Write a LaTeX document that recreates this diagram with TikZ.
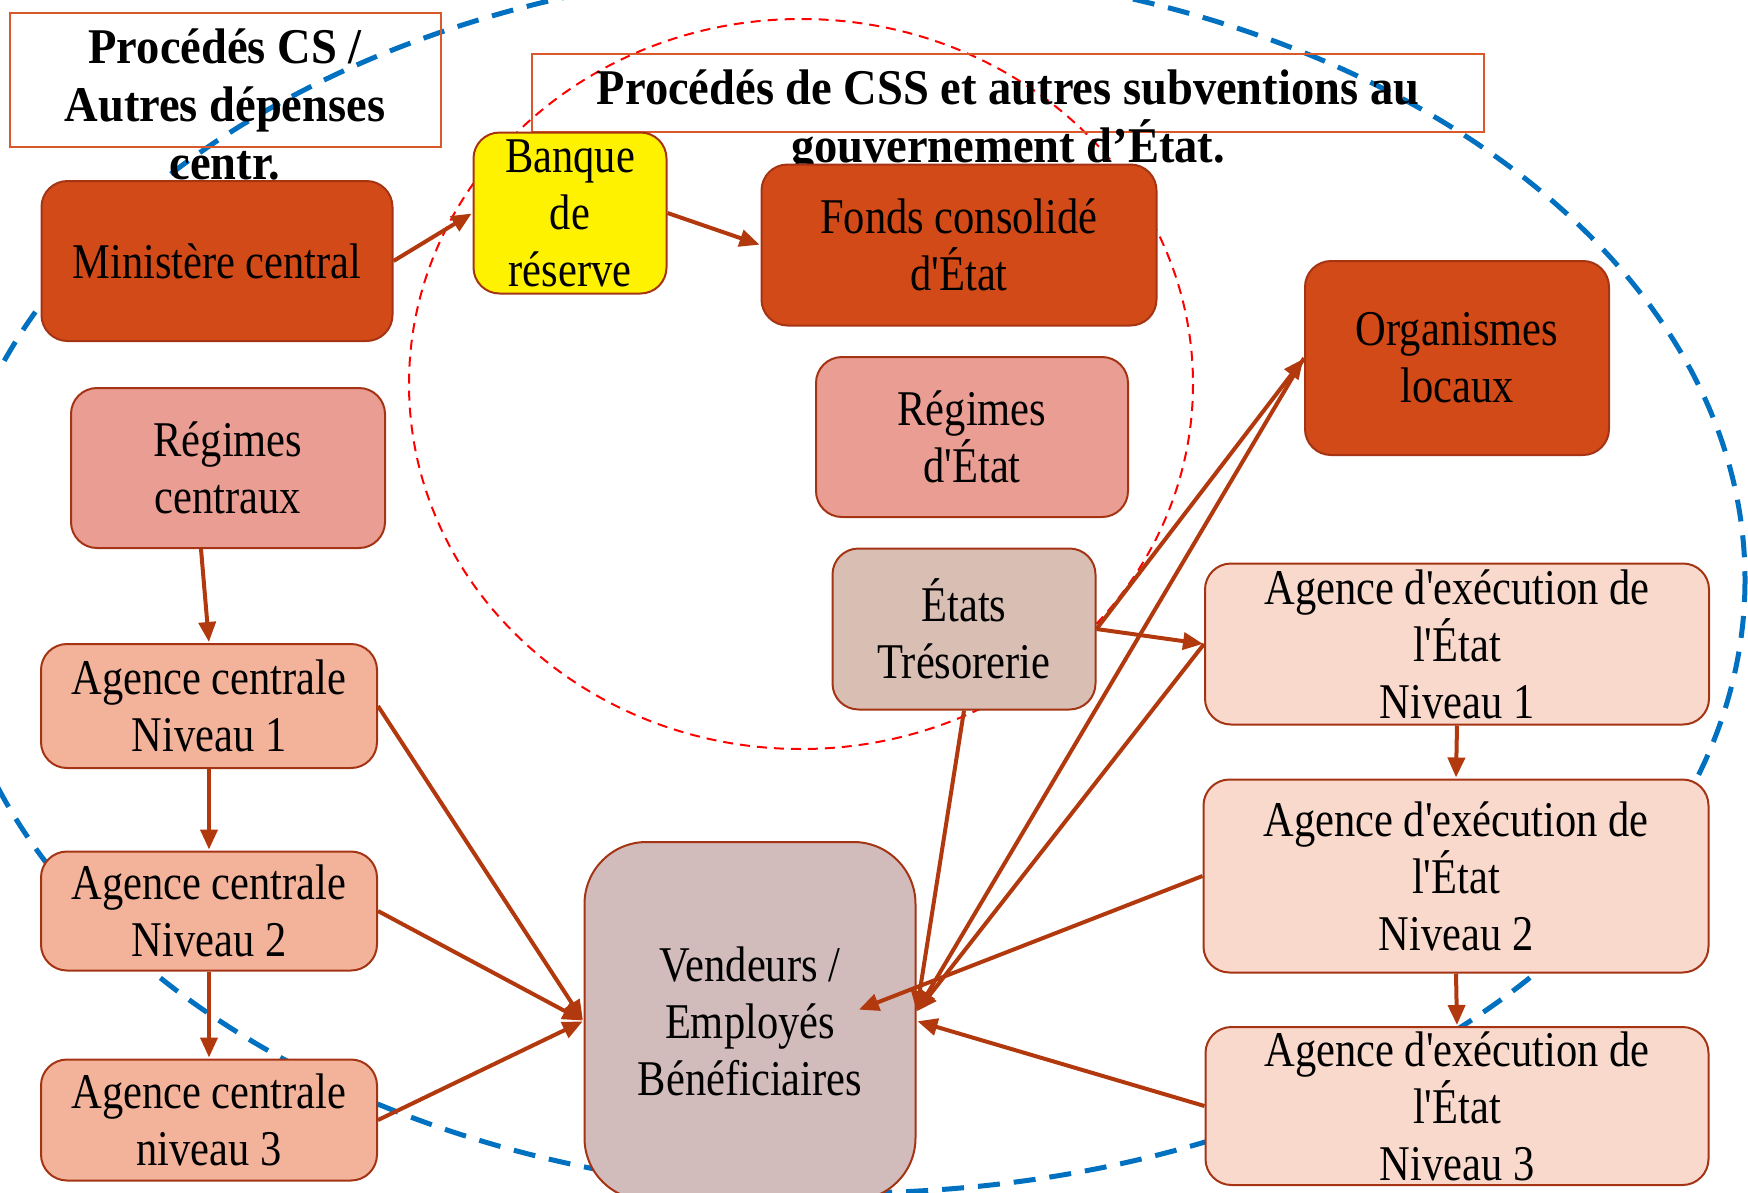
\documentclass[tikz,border=0pt]{standalone}
\usepackage{fontspec}
\setmainfont{Liberation Serif}[FakeStretch=0.85, Ligatures=TeXOff]
\newfontfamily\headfont{Liberation Serif}[FakeStretch=0.93]
\usetikzlibrary{arrows.meta}

\definecolor{darkfill}{RGB}{209,74,23}
\definecolor{boxline}{RGB}{165,52,20}
\definecolor{pinkfill}{RGB}{233,157,147}
\definecolor{tresfill}{RGB}{217,190,180}
\definecolor{vendfill}{RGB}{209,187,187}
\definecolor{acfill}{RGB}{242,179,154}
\definecolor{aefill}{RGB}{248,217,203}
\definecolor{flow}{RGB}{178,56,14}
\definecolor{titleline}{RGB}{217,89,42}
\definecolor{zoneblue}{RGB}{0,112,192}

\tikzset{
  box/.style={draw=boxline, line width=2pt, rounded corners=26pt, align=center,
    inner sep=0pt, font=\fontsize{50}{57}\selectfont},
  titlebox/.style={draw=titleline, line width=2pt, inner sep=0pt},
  titletext/.style={align=center, inner sep=0pt, font=\headfont\bfseries\fontsize{50}{58}\selectfont},
}

\begin{document}
\begin{tikzpicture}[x=1pt, y=-1pt, >={Triangle[length=20pt,width=17pt]}, shorten >=1pt]
    \useasboundingbox (0,0) rectangle (1748,1192);
    % zones
    \draw[zoneblue, line width=5pt, dash pattern=on 22pt off 14pt] (845,580) ellipse [x radius=900, y radius=613];
    \draw[red, line width=2pt, dash pattern=on 10pt off 7pt] (801,384) ellipse [x radius=392, y radius=365];
    % titles
    \node[titlebox, minimum width=431pt, minimum height=134pt] (t_cs) at (225,80) {};
    \node[titletext] (t_cs_txt) at (225,104) {Procédés CS /\\Autres dépenses\\centr.};
    \node[titlebox, minimum width=952pt, minimum height=78pt] (t_css) at (1008,93) {};
    \node[titletext] (t_css_txt) at (1008,122) {Procédés de CSS et autres subventions au\\gouvernement d’État.};
    % boxes
    \node[box, fill=darkfill, minimum width=351pt, minimum height=160pt] (min_c) at (217,261) {Ministère central};
    \node[box, fill=yellow, minimum width=193pt, minimum height=161pt] (bank) at (570,213) {Banque\\de\\réserve};
    \node[box, fill=darkfill, minimum width=395pt, minimum height=161pt] (fonds) at (959,245) {Fonds consolidé\\d'État};
    \node[box, fill=darkfill, minimum width=304pt, minimum height=194pt] (org) at (1457,358) {Organismes\\locaux};
    \node[box, fill=pinkfill, minimum width=314pt, minimum height=160pt] (reg_c) at (228,468) {Régimes\\centraux};
    \node[box, fill=pinkfill, minimum width=312pt, minimum height=160pt] (reg_e) at (972,437) {Régimes\\d'État};
    \node[box, fill=tresfill, minimum width=263pt, minimum height=161pt] (tres) at (964,629) {États\\Trésorerie};
    \node[box, fill=acfill, minimum width=336pt, minimum height=124pt] (ac_1) at (209,706) {Agence centrale\\Niveau 1};
    \node[box, fill=acfill, minimum width=336pt, minimum height=119pt] (ac_2) at (209,911) {Agence centrale\\Niveau 2};
    \node[box, fill=acfill, minimum width=336pt, minimum height=121pt] (ac_3) at (209,1120) {Agence centrale\\niveau 3};
    \node[box, fill=vendfill, rounded corners=62pt, minimum width=331pt, minimum height=358pt] (vend) at (750,1021) {Vendeurs /\\Employés\\Bénéficiaires};
    \node[box, fill=aefill, minimum width=504pt, minimum height=161pt] (ae_1) at (1457,644) {Agence d'exécution de\\l'État\\Niveau 1};
    \node[box, fill=aefill, minimum width=505pt, minimum height=193pt] (ae_2) at (1456,876) {Agence d'exécution de\\l'État\\Niveau 2};
    \node[box, fill=aefill, minimum width=503pt, minimum height=158pt] (ae_3) at (1457,1106) {Agence d'exécution de\\l'État\\Niveau 3};
    \coordinate (v_in) at ([yshift=9pt]vend.east);
    \coordinate (v_mid) at (858,1010);
    % flows
    \path[->, color=flow, line width=4pt]
        (min_c.east)    edge (bank.west)
        (bank.east)     edge (fonds.west)
        ([xshift=-27pt]reg_c.south) edge (ac_1.north)
        (ac_1.south)    edge (ac_2.north)
        (ac_2.south)    edge (ac_3.north)
        (ac_1.east)     edge (vend.west)
        (ac_2.east)     edge (vend.west)
        (ac_3.east)     edge (vend.west)
        (tres.south)    edge (v_in)
        (tres.east)     edge (ae_1.west)
                        edge (org.west)
        (org.west)      edge (v_in)
        (ae_1.west)     edge (v_in)
        (ae_1.south)    edge (ae_2.north)
        (ae_2.south)    edge (ae_3.north)
        (ae_2.west)     edge (v_mid)
        (ae_3.west)     edge (vend.east);
\end{tikzpicture}
\end{document}
